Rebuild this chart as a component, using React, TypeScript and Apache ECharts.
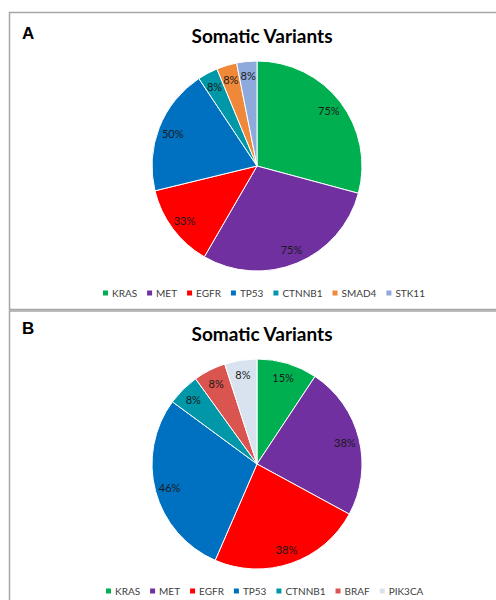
import React, { useEffect, useRef } from "react";
import * as echarts from "echarts";

const genesA = ["KRAS", "MET", "EGFR", "TP53", "CTNNB1", "SMAD4", "STK11"];
const valuesA = [75, 75, 33, 50, 8, 8, 8];
const colorsA = ["#00B050", "#7030A0", "#FF0000", "#0070C0", "#0098A8", "#F0883A", "#8EA9DB"];

const genesB = ["KRAS", "MET", "EGFR", "TP53", "CTNNB1", "BRAF", "PIK3CA"];
const valuesB = [15, 38, 38, 46, 8, 8, 8];
const colorsB = ["#00B050", "#7030A0", "#FF0000", "#0070C0", "#0098A8", "#DA5450", "#D9E3F0"];

const FONT = "Lato";

function pieSeries(names: string[], vals: number[], colors: string[], cy: number) {
  const data = names.map((n, i) => ({ name: n, value: vals[i], itemStyle: { color: colors[i] } }));
  const labelData = names.map((n, i) => ({ name: n, value: vals[i], itemStyle: { color: "transparent" } }));
  return [
    {
      type: "pie",
      center: [257, cy],
      radius: [0, 105],
      startAngle: 90,
      clockwise: true,
      data,
      label: { show: false },
      labelLine: { show: false },
      itemStyle: { borderWidth: 1, borderColor: "#ffffff" },
      emphasis: { disabled: true },
      silent: true,
    },
    {
      type: "pie",
      center: [257, cy],
      radius: [70, 105],
      startAngle: 90,
      clockwise: true,
      data: labelData,
      label: {
        show: true,
        position: "inside",
        formatter: (p: any) => p.value + "%",
        color: "#1a1a1a",
        fontFamily: FONT,
        fontSize: 11,
      },
      labelLine: { show: false },
      emphasis: { disabled: true },
      silent: true,
      legendHoverLink: false,
    },
  ];
}

export default function App() {
  const ref = useRef<HTMLDivElement>(null);
  useEffect(() => {
    if (!ref.current) return;
    const chart = echarts.init(ref.current, undefined, { renderer: "svg" });
    const legendCommon = {
      orient: "horizontal",
      icon: "rect",
      itemWidth: 7,
      itemHeight: 7,
      itemGap: 8,
      padding: 0,
      textStyle: { fontFamily: FONT, fontSize: 10, color: "#404040", padding: [0, 0, 0, -2] },
      selectedMode: false,
    };
    chart.setOption({
      animation: false,
      backgroundColor: "#ffffff",
      title: [
        {
          text: "Somatic Variants",
          left: 257,
          top: 21,
          textAlign: "center",
          textStyle: { fontFamily: FONT, fontWeight: "bold", fontSize: 19, color: "#000" },
        },
        {
          text: "Somatic Variants",
          left: 257,
          top: 319,
          textAlign: "center",
          textStyle: { fontFamily: FONT, fontWeight: "bold", fontSize: 19, color: "#000" },
        },
        {
          text: "A",
          left: 17,
          top: 20,
          textStyle: { fontFamily: "Liberation Sans", fontWeight: "bold", fontSize: 17, color: "#000" },
        },
        {
          text: "B",
          left: 17,
          top: 315,
          textStyle: { fontFamily: "Liberation Sans", fontWeight: "bold", fontSize: 17, color: "#000" },
        },
      ],
      legend: [
        { ...legendCommon, data: genesA, left: 101, top: 288 },
        { ...legendCommon, data: genesB, left: 104, top: 586 },
      ],
      graphic: [
        {
          type: "rect",
          shape: { x: 9.5, y: 12.5, width: 520, height: 297 },
          style: { fill: "none", stroke: "#a6a6a6", lineWidth: 1.5 },
          silent: true,
        },
        {
          type: "rect",
          shape: { x: 9.5, y: 311, width: 520, height: 320 },
          style: { fill: "none", stroke: "#a6a6a6", lineWidth: 1.5 },
          silent: true,
        },
      ],
      series: [
        ...pieSeries(genesA, valuesA, colorsA, 166),
        ...pieSeries(genesB, valuesB, colorsB, 464),
      ],
    });
    return () => chart.dispose();
  }, []);
  return (
    <div
      ref={ref}
      style={{ position: "fixed", left: 0, top: 0, width: 496, height: 600, background: "#fff" }}
    />
  );
}
